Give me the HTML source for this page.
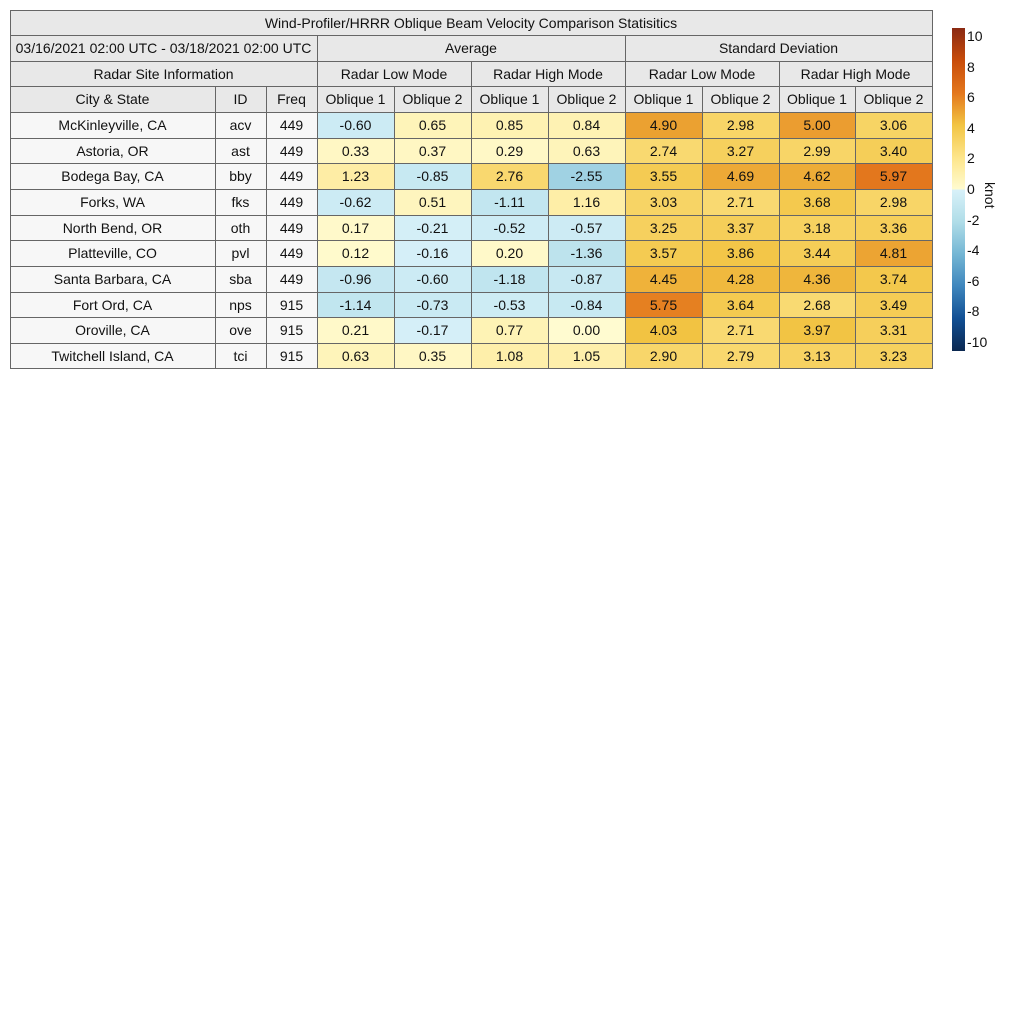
<!DOCTYPE html><html><head><meta charset="utf-8"><style>
body{margin:0;width:1024px;height:1024px;background:#fff;font-family:"Liberation Sans",sans-serif;position:relative;overflow:hidden}
.c{position:absolute;box-sizing:border-box;border:1px solid #666;display:flex;align-items:center;justify-content:center;font-size:14px;color:#111;margin:-0.5px 0 0 -0.5px}
.h{background:#e8e8e8}
.t{position:absolute;font-size:14px;color:#111}
</style></head><body>
<div id="g"></div>
<div style="position:absolute;left:952px;top:28px;width:13px;height:323px;background:linear-gradient(to bottom,#8a2913 0%,#c84c0a 10%,#e3761c 20%,#f2c443 30%,#fde58a 40%,#fffbd0 49.9%,#d8f1f9 50.1%,#b0dde8 60%,#74b6d4 70%,#3e86bd 80%,#114f94 90%,#0b2850 100%)"></div>
<div id="cb"></div>
<div class="t" style="left:978px;top:182px;transform:rotate(90deg);transform-origin:left top;left:998px">knot</div>
<script>
var X=[10,215,266,317,394,471,548,625,702,779,855,932],Y=[10,35,61,86,112,138,163,189,215,240,266,292,317,343,368];
var g=document.getElementById('g'),h='';
function cell(x0,x1,y0,y1,txt,cls,bg,al){h+='<div class="c '+(cls||'')+'" style="left:'+x0+'px;top:'+y0+'px;width:'+(x1-x0+1)+'px;height:'+(y1-y0+1)+'px;'+(bg?'background:'+bg+';':'')+(al?'justify-content:flex-start;padding-left:4px;':'')+'">'+txt+'</div>';}
cell(X[0],X[11],Y[0],Y[1],'Wind-Profiler/HRRR Oblique Beam Velocity Comparison Statisitics','h');
cell(X[0],X[3],Y[1],Y[2],'03/16/2021 02:00 UTC - 03/18/2021 02:00 UTC','h');
cell(X[3],X[7],Y[1],Y[2],'Average','h');cell(X[7],X[11],Y[1],Y[2],'Standard Deviation','h');
cell(X[0],X[3],Y[2],Y[3],'Radar Site Information','h');
['Radar Low Mode','Radar High Mode','Radar Low Mode','Radar High Mode'].forEach(function(s,i){cell(X[3+2*i],X[5+2*i],Y[2],Y[3],s,'h');});
['City &amp; State','ID','Freq'].forEach(function(s,i){cell(X[i],X[i+1],Y[3],Y[4],s,'h');});
for(var i=0;i<8;i++)cell(X[3+i],X[4+i],Y[3],Y[4],'Oblique '+(i%2+1),'h');
var P=[[0,[255,251,208]],[2,[253,229,138]],[4,[242,196,67]],[6,[227,118,28]],[8,[200,76,10]],[10,[138,41,19]]];
var N=[[0,[216,241,249]],[2,[176,221,232]],[4,[116,182,212]],[6,[62,134,189]],[8,[17,79,148]],[10,[11,40,80]]];
function col(v){var S=v<0?N:P;v=Math.min(Math.abs(v),10);for(var k=0;k<5;k++){if(v<=S[k+1][0]){var f=(v-S[k][0])/2;var c=S[k][1].map(function(a,j){return Math.round(a+(S[k+1][1][j]-a)*f)});return 'rgb('+c+')';}}}
var R=[["McKinleyville, CA","acv",449,-0.60,0.65,0.85,0.84,4.90,2.98,5.00,3.06],
["Astoria, OR","ast",449,0.33,0.37,0.29,0.63,2.74,3.27,2.99,3.40],
["Bodega Bay, CA","bby",449,1.23,-0.85,2.76,-2.55,3.55,4.69,4.62,5.97],
["Forks, WA","fks",449,-0.62,0.51,-1.11,1.16,3.03,2.71,3.68,2.98],
["North Bend, OR","oth",449,0.17,-0.21,-0.52,-0.57,3.25,3.37,3.18,3.36],
["Platteville, CO","pvl",449,0.12,-0.16,0.20,-1.36,3.57,3.86,3.44,4.81],
["Santa Barbara, CA","sba",449,-0.96,-0.60,-1.18,-0.87,4.45,4.28,4.36,3.74],
["Fort Ord, CA","nps",915,-1.14,-0.73,-0.53,-0.84,5.75,3.64,2.68,3.49],
["Oroville, CA","ove",915,0.21,-0.17,0.77,0.00,4.03,2.71,3.97,3.31],
["Twitchell Island, CA","tci",915,0.63,0.35,1.08,1.05,2.90,2.79,3.13,3.23]];
R.forEach(function(r,ri){var y0=Y[4+ri],y1=Y[5+ri];
for(var j=0;j<3;j++)cell(X[j],X[j+1],y0,y1,r[j],'','#f7f7f7');
for(var j=3;j<11;j++)cell(X[j],X[j+1],y0,y1,r[j].toFixed(2),'',col(r[j]));});
g.innerHTML=h;
var cb='';for(var v=10;v>=-10;v-=2){var y=189-v*15.3-8;cb+='<div class="t" style="left:967px;top:'+y+'px">'+v+'</div>';}
document.getElementById('cb').innerHTML=cb;
</script></body></html>
